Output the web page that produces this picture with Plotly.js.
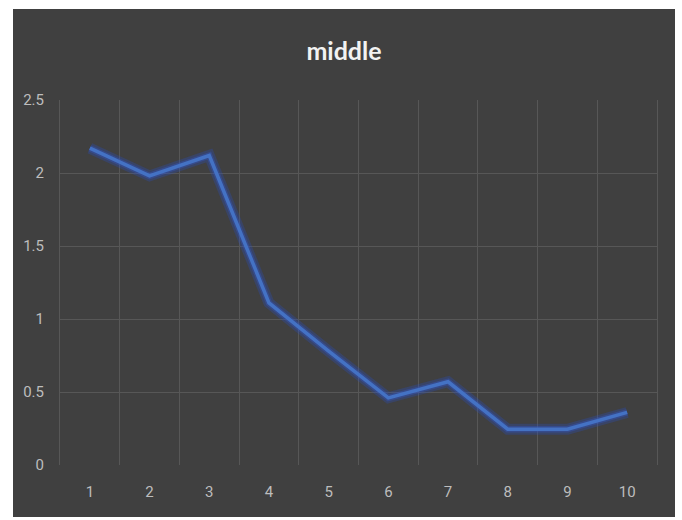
<!DOCTYPE html>
<html>
<head>
<meta charset="utf-8">
<script src="https://cdn.plot.ly/plotly-3.0.1.min.js"></script>
<style>
  html, body { margin: 0; padding: 0; background: #ffffff; }
  body { width: 682px; height: 520px; position: relative; overflow: hidden; }
  #chart { position: absolute; left: 13px; top: 9px; width: 662px; height: 508px; }
</style>
</head>
<body>
<div id="chart"></div>
<script>
// Series data
const categories = ['1', '2', '3', '4', '5', '6', '7', '8', '9', '10'];
const middleValues = [2.17, 1.98, 2.12, 1.11, 0.78, 0.46, 0.57, 0.245, 0.245, 0.36];
const yTickValues = [0, 0.5, 1, 1.5, 2, 2.5];
const yTickLabels = ['0', '0.5', '1', '1.5', '2', '2.5'];
const yGridValues = [0.5, 1, 1.5, 2, 2.5];

const lineBlue = '#4472C4';
const gridColor = '#575757';
const labelFont = { family: 'Roboto, "Open Sans", sans-serif', size: 15, color: '#bdbdbd' };

// Soft halo under the main line
const halo = {
  x: categories, y: middleValues, type: 'scatter', mode: 'lines',
  line: { color: 'rgba(40, 80, 200, 0.28)', width: 11 },
  hoverinfo: 'skip', showlegend: false
};
const halo2 = {
  x: categories, y: middleValues, type: 'scatter', mode: 'lines',
  line: { color: 'rgba(50, 90, 210, 0.35)', width: 6.5 },
  hoverinfo: 'skip', showlegend: false
};
const middle = {
  x: categories, y: middleValues, type: 'scatter', mode: 'lines', name: 'middle',
  line: { color: lineBlue, width: 3.5 }, showlegend: false
};

const layout = {
  width: 662, height: 508,
  paper_bgcolor: '#404040', plot_bgcolor: '#404040',
  margin: { l: 47, r: 18, t: 91, b: 52 },
  title: {
    text: 'middle',
    font: { family: 'Lato, "Open Sans", sans-serif', size: 25, color: '#f2f2f2', weight: 'bold' },
    xref: 'container', x: 0.5, xanchor: 'center',
    yref: 'container', y: 0.917, yanchor: 'middle'
  },
  xaxis: {
    type: 'category', range: [-0.5, 9.5],
    tickson: 'boundaries', showgrid: true, gridcolor: gridColor, gridwidth: 1,
    ticks: '', showline: false, zeroline: false,
    tickfont: labelFont, ticklabelstandoff: 16,
    fixedrange: true
  },
  yaxis: {
    range: [0, 2.5], tickvals: yTickValues, ticktext: yTickLabels,
    showgrid: false, zeroline: false, ticks: '',
    showline: true, mirror: true, linecolor: gridColor, linewidth: 1,
    minor: { tickvals: yGridValues, showgrid: true, gridcolor: gridColor, gridwidth: 1, ticks: '' },
    tickfont: labelFont, ticklabelstandoff: 12,
    fixedrange: true
  },
  showlegend: false
};

Plotly.newPlot('chart', [halo, halo2, middle], layout, { displayModeBar: false, staticPlot: true });
</script>
</body>
</html>
